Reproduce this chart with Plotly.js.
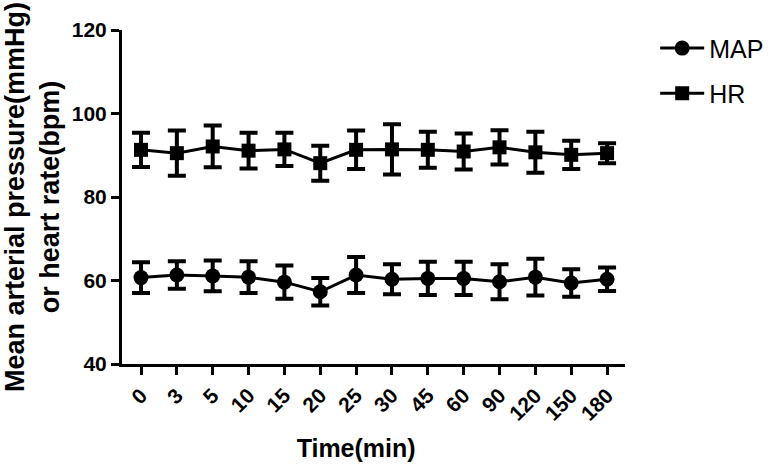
<!DOCTYPE html>
<html><head><meta charset="utf-8">
<script src="https://cdn.plot.ly/plotly-3.0.1.min.js"></script>
<style>html,body{margin:0;padding:0;background:#fff}#chart{width:772px;height:466px}</style>
</head><body><div id="chart"></div>
<script>
var categories = ["0","3","5","10","15","20","25","30","45","60","90","120","150","180"];
var mapMean = [60.7,61.3,61.1,60.8,59.6,57.3,61.3,60.3,60.5,60.5,59.7,60.8,59.4,60.3];
var mapErr  = [3.7,3.3,3.7,3.8,4.0,3.3,4.3,3.6,4.0,4.0,4.2,4.4,3.3,2.8];
var hrMean  = [91.3,90.5,92.1,91.1,91.4,88.1,91.3,91.4,91.3,90.9,91.9,90.7,90.1,90.5];
var hrErr   = [4.1,5.4,5.0,4.3,4.0,4.2,4.6,6.0,4.3,4.3,4.1,4.9,3.4,2.4];

var font = "Liberation Sans, Arial, sans-serif";
var traces = [
  {x: categories, y: mapMean, name: "MAP", type: "scatter", mode: "lines+markers",
   line: {color: "#000", width: 3}, marker: {symbol: "circle", size: 15, color: "#000"},
   error_y: {type: "data", array: mapErr, visible: true, color: "#000", thickness: 4, width: 9},
   legend: "legend"},
  {x: categories, y: hrMean, name: "HR", type: "scatter", mode: "lines+markers",
   line: {color: "#000", width: 3}, marker: {symbol: "square", size: 14, color: "#000"},
   error_y: {type: "data", array: hrErr, visible: true, color: "#000", thickness: 4, width: 9},
   legend: "legend2"}
];
var legendCommon = {font: {family: font, size: 25, color: "#000"}, bgcolor: "rgba(0,0,0,0)",
  xanchor: "left", yanchor: "middle", x: 1.06, itemwidth: 44};
var layout = {
  width: 772, height: 466,
  margin: {l: 122, r: 147, t: 30, b: 102, autoexpand: false},
  paper_bgcolor: "#fff", plot_bgcolor: "#fff",
  showlegend: true,
  legend: Object.assign({y: 0.945}, legendCommon),
  legend2: Object.assign({y: 0.81}, legendCommon),
  xaxis: {type: "category", range: [-0.53, 13.5], showgrid: false, zeroline: false,
    showline: true, linecolor: "#000", linewidth: 3,
    ticks: "outside", ticklen: 8, tickwidth: 3, tickcolor: "#000",
    tickangle: -45, tickfont: {family: font, size: 21, color: "#000", weight: "bold"},
    title: {text: "<b>Time(min)&nbsp;&nbsp;&nbsp;&nbsp;&nbsp;</b>", font: {family: font, size: 25, color: "#000"}, standoff: 16}},
  yaxis: {range: [40, 120], tickvals: [40,60,80,100,120], showgrid: false, zeroline: false,
    showline: true, linecolor: "#000", linewidth: 3,
    ticks: "outside", ticklen: 8, tickwidth: 3, tickcolor: "#000",
    tickfont: {family: font, size: 21, color: "#000", weight: "bold"},
    title: {text: "<b>Mean arterial pressure(mmHg)<br>or heart rate(bpm)</b>", font: {family: font, size: 27, color: "#000"}, standoff: 10}}
};
Plotly.newPlot("chart", traces, layout, {displayModeBar: false, staticPlot: true});
</script></body></html>
